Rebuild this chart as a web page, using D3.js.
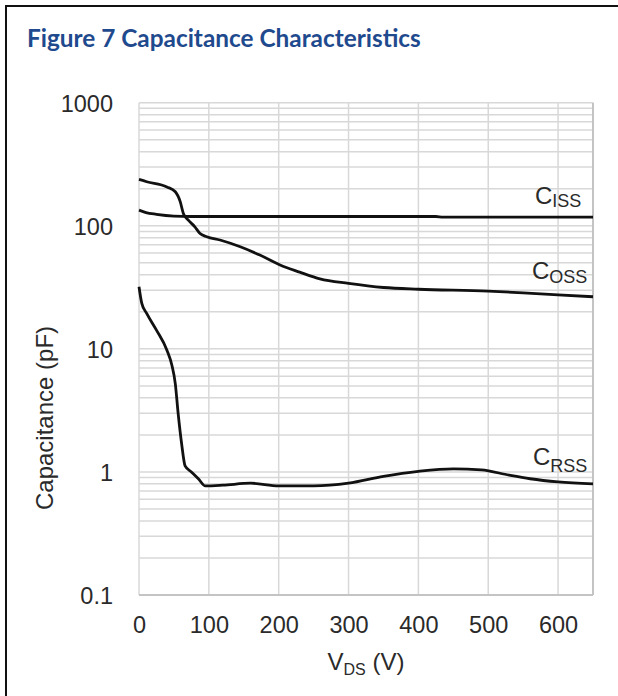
<!DOCTYPE html>
<html>
<head>
<meta charset="utf-8">
<script src="https://cdn.jsdelivr.net/npm/d3@7"></script>
<style>
  html, body { margin: 0; padding: 0; background: #fff; }
  svg { display: block; }
</style>
</head>
<body>
<svg id="chart" width="618" height="696"></svg>
<script>
// ---- data ----
const cissV   = [0, 10, 25, 50, 75, 100, 200, 300, 400, 425, 435, 500, 650];
const cissC   = [134, 128, 124, 120, 119, 119, 119, 119, 119, 119, 117.5, 117.5, 117.5];
const cossV   = [0, 11, 40, 52, 59, 63.5, 70.6, 80, 87, 97, 116, 145, 173, 202, 230, 259, 300, 350, 400, 500, 550, 600, 650];
const cossC   = [238, 228, 207, 189, 157, 126, 111, 98, 87, 81.5, 76.6, 67.5, 57.8, 48, 42, 37, 34, 31.5, 30.5, 29.5, 28.5, 27.5, 26.5];
const crssV   = [0, 4, 11, 25, 40, 47, 52, 56, 61, 66, 75, 85, 95, 120, 160, 200, 250, 300, 350, 400, 450, 490, 530, 560, 600, 650];
const crssC   = [32, 23.4, 19.4, 14.2, 9.75, 7.4, 5.2, 3.0, 1.70, 1.12, 1.0, 0.88, 0.77, 0.78, 0.81, 0.77, 0.77, 0.81, 0.92, 1.01, 1.06, 1.04, 0.94, 0.88, 0.83, 0.80];
const xTicks  = [0, 100, 200, 300, 400, 500, 600];
const yTicks  = [0.1, 1, 10, 100, 1000];
const yTickLabels = ["0.1", "1", "10", "100", "1000"];
const seriesNames = [["C", "ISS"], ["C", "OSS"], ["C", "RSS"]];
const titleText = "Figure 7 Capacitance Characteristics";

// ---- layout ----
const svg = d3.select("#chart");
const L = 139, R = 593, T = 102.7, B = 595;
const x = d3.scaleLinear().domain([0, 650]).range([L, R]);
const y = d3.scaleLog().domain([0.1, 1000]).range([B, T]);
const font = "'Liberation Sans', Arial, sans-serif";

// outer frame
svg.append("rect").attr("x", 6).attr("y", 6).attr("width", 640).attr("height", 720)
  .attr("fill", "none").attr("stroke", "#111").attr("stroke-width", 2);

// title
const title = svg.append("text").attr("x", 27).attr("y", 47)
  .attr("font-family", "Lato, 'Open Sans', sans-serif").attr("font-weight", 700)
  .attr("font-size", 23).attr("fill", "#1f4a8e").text(titleText);
const tw = title.node().getComputedTextLength();
title.attr("font-size", 23 * 394 / tw);

// grid
const minor = [];
for (let e = -1; e < 3; e++) for (let k = 1; k <= 9; k++) minor.push(k * Math.pow(10, e));
minor.push(1000);
const g = svg.append("g");
g.selectAll("line.h").data(minor).join("line")
  .attr("x1", L).attr("x2", R).attr("y1", d => y(d)).attr("y2", d => y(d))
  .attr("stroke", "#d8d8d8").attr("stroke-width", 1.5);
g.selectAll("line.v").data(xTicks.concat([650])).join("line")
  .attr("y1", T).attr("y2", B).attr("x1", d => x(d)).attr("x2", d => x(d))
  .attr("stroke", "#d8d8d8").attr("stroke-width", 1.5);
svg.append("line").attr("x1", R).attr("x2", R).attr("y1", T).attr("y2", B)
  .attr("stroke", "#c4c4c4").attr("stroke-width", 2);
svg.append("line").attr("x1", L).attr("x2", R).attr("y1", B).attr("y2", B)
  .attr("stroke", "#c4c4c4").attr("stroke-width", 2);

// axes via d3 axis generators (text only)
const yAxis = svg.append("g").attr("transform", `translate(${113},0)`)
  .call(d3.axisLeft(y).tickValues(yTicks).tickFormat((d, i) => yTickLabels[i]).tickSize(0).tickPadding(0));
yAxis.select(".domain").remove();
yAxis.selectAll("text").attr("font-family", font).attr("font-size", 23.5).attr("fill", "#2a2a2a")
  .attr("dy", "0.36em");

const xAxis = svg.append("g").attr("transform", `translate(0,${616})`)
  .call(d3.axisBottom(x).tickValues(xTicks).tickFormat(d3.format("d")).tickSize(0).tickPadding(0));
xAxis.select(".domain").remove();
xAxis.selectAll("text").attr("font-family", font).attr("font-size", 23.5).attr("fill", "#2a2a2a")
  .attr("dy", "0.71em");

// axis titles
const xt = svg.append("text").attr("x", 366).attr("y", 670).attr("text-anchor", "middle")
  .attr("font-family", font).attr("font-size", 24).attr("fill", "#2a2a2a");
xt.append("tspan").text("V");
xt.append("tspan").attr("font-size", 16).attr("dy", 5).text("DS");
xt.append("tspan").attr("dy", -5).text(" (V)");

svg.append("text").attr("transform", "translate(53,418) rotate(-90)").attr("text-anchor", "middle")
  .attr("font-family", font).attr("font-size", 24).attr("fill", "#2a2a2a").text("Capacitance (pF)");

// curves
const line = d3.line().x(d => x(d[0])).y(d => y(d[1])).curve(d3.curveMonotoneX);
const series = [
  d3.zip(cissV, cissC),
  d3.zip(cossV, cossC),
  d3.zip(crssV, crssC)
];
svg.append("g").selectAll("path").data(series).join("path")
  .attr("d", line).attr("fill", "none").attr("stroke", "#111").attr("stroke-width", 2.8)
  .attr("stroke-linejoin", "round");

// curve labels
const labelPos = [[535, 204, 207], [532, 279, 283], [533, 465, 471.5]];
seriesNames.forEach((n, i) => {
  const t = svg.append("text").attr("x", labelPos[i][0]).attr("y", labelPos[i][1])
    .attr("font-family", font).attr("font-size", 24).attr("fill", "#2a2a2a");
  t.append("tspan").text(n[0]);
  t.append("tspan").attr("font-size", 18).attr("dy", labelPos[i][2] - labelPos[i][1]).text(n[1]);
});
</script>
</body>
</html>
